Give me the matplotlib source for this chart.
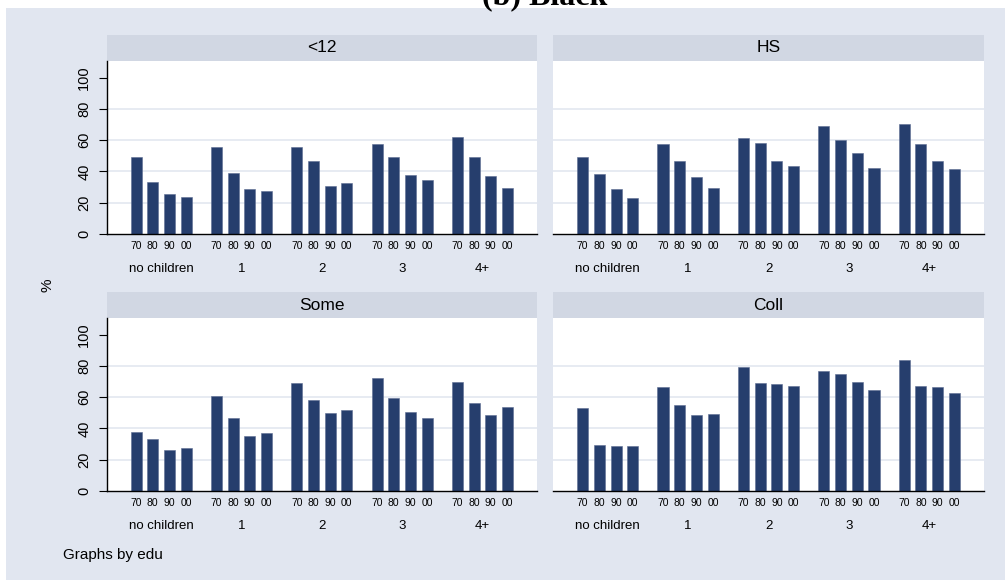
import numpy as np
import matplotlib.pyplot as plt
from matplotlib.patches import Rectangle

plt.rcParams['font.family'] = ['Liberation Sans', 'DejaVu Sans']

kids = ["no children", "1", "2", "3", "4+"]
decades = ["70", "80", "90", "00"]
edu_levels = ["<12", "HS", "Some", "Coll"]

# share (%) by number of children (rows) and decade (columns)
share_lt12 = [[49.0, 33.0, 25.5, 23.5],
              [55.5, 39.0, 28.5, 27.5],
              [55.5, 46.5, 30.5, 32.5],
              [57.5, 49.0, 37.5, 34.5],
              [62.0, 49.5, 37.0, 29.5]]
share_hs = [[49.0, 38.5, 29.0, 23.0],
            [57.5, 46.5, 36.5, 29.5],
            [61.5, 58.0, 46.5, 43.5],
            [69.0, 60.0, 52.0, 42.5],
            [70.5, 57.5, 46.5, 41.5]]
share_some = [[38.0, 33.0, 26.0, 27.5],
              [60.5, 47.0, 35.5, 37.0],
              [69.0, 58.0, 50.0, 52.0],
              [72.5, 59.5, 50.5, 46.5],
              [70.0, 56.0, 48.5, 53.5]]
share_coll = [[53.0, 29.5, 29.0, 29.0],
              [66.5, 55.0, 48.5, 49.0],
              [79.5, 69.0, 68.5, 67.5],
              [76.5, 75.0, 69.5, 64.5],
              [84.0, 67.0, 66.5, 63.0]]
shares = [share_lt12, share_hs, share_some, share_coll]

W, H = 1005, 580
BG = '#e1e6f0'
STRIP = '#d1d7e3'
GRID = '#e3e7f0'
BAR = '#263e6d'


def px_box(x0, y0, x1, y1):
    return [x0 / W, 1 - y1 / H, (x1 - x0) / W, (y1 - y0) / H]


fig = plt.figure(figsize=(W / 100, H / 100), dpi=100)
fig.patch.set_facecolor('white')
fig.patches.append(Rectangle((6 / W, 0), 1 - 6 / W, 1 - 8 / H, transform=fig.transFigure,
                             facecolor=BG, edgecolor='none', zorder=-10))

# title sits mostly above the top edge of the canvas
fig.text(545 / W, 1 - 4 / H, "(b) Black", ha='center', va='baseline', fontsize=23,
         fontweight='bold', family=['Liberation Serif', 'DejaVu Serif'])

cols = [(106.5, 537), (553, 984)]
rows = [(35, 61, 234), (292, 318, 491)]

gpitch = 4.81
width = 0.66

for k, level in enumerate(edu_levels):
    r, c = divmod(k, 2)
    x0, x1 = cols[c]
    s0, s1, yb = rows[r]

    head = fig.add_axes(px_box(x0, s0, x1, s1))
    head.set_facecolor(STRIP)
    head.set_xticks([])
    head.set_yticks([])
    for sp in head.spines.values():
        sp.set_visible(False)
    head.text(0.5, 0.5, level, ha='center', va='center', fontsize=12.5, transform=head.transAxes)

    ax = fig.add_axes(px_box(x0, s1, x1, yb))
    ax.set_facecolor('white')
    vals = np.array(shares[k])
    xs = []
    for g in range(len(kids)):
        x = g * gpitch + np.arange(len(decades))
        ax.bar(x, vals[g], width=width, color=BAR, edgecolor='#5d6d92', linewidth=0.4, zorder=2)
        xs.extend(x)
    for yv in [20, 40, 60, 80]:
        ax.axhline(yv, color=GRID, lw=1.2, zorder=0)

    ax.set_xlim(-1.77, (len(kids) - 1) * gpitch + 3 + 1.77)
    ax.set_ylim(0, 110.7)
    ax.set_xticks(xs, labels=decades * len(kids))
    ax.tick_params(axis='x', length=0, pad=5, labelsize=7.5)
    for g, name in enumerate(kids):
        ax.text(g * gpitch + 1.5, -35 / 173, name, transform=ax.get_xaxis_transform(),
                ha='center', va='center', fontsize=9.5)

    ax.set_yticks(range(0, 101, 20))
    for sp in ['top', 'right']:
        ax.spines[sp].set_visible(False)
    ax.spines['bottom'].set_linewidth(1.0)
    if c == 0:
        ax.spines['left'].set_linewidth(1.0)
        ax.tick_params(axis='y', length=6, width=0.8, pad=5, labelsize=10.5, labelrotation=90)
        for lab in ax.get_yticklabels():
            lab.set_va('center')
    else:
        ax.spines['left'].set_visible(False)
        ax.tick_params(axis='y', left=False, labelleft=False)

fig.text(47 / W, 1 - 285 / H, "%", rotation=90, ha='center', va='center', fontsize=11)
fig.text(63 / W, 1 - 555 / H, "Graphs by edu", ha='left', va='center', fontsize=11)

fig.savefig('out.png', dpi=100, facecolor=fig.get_facecolor())
